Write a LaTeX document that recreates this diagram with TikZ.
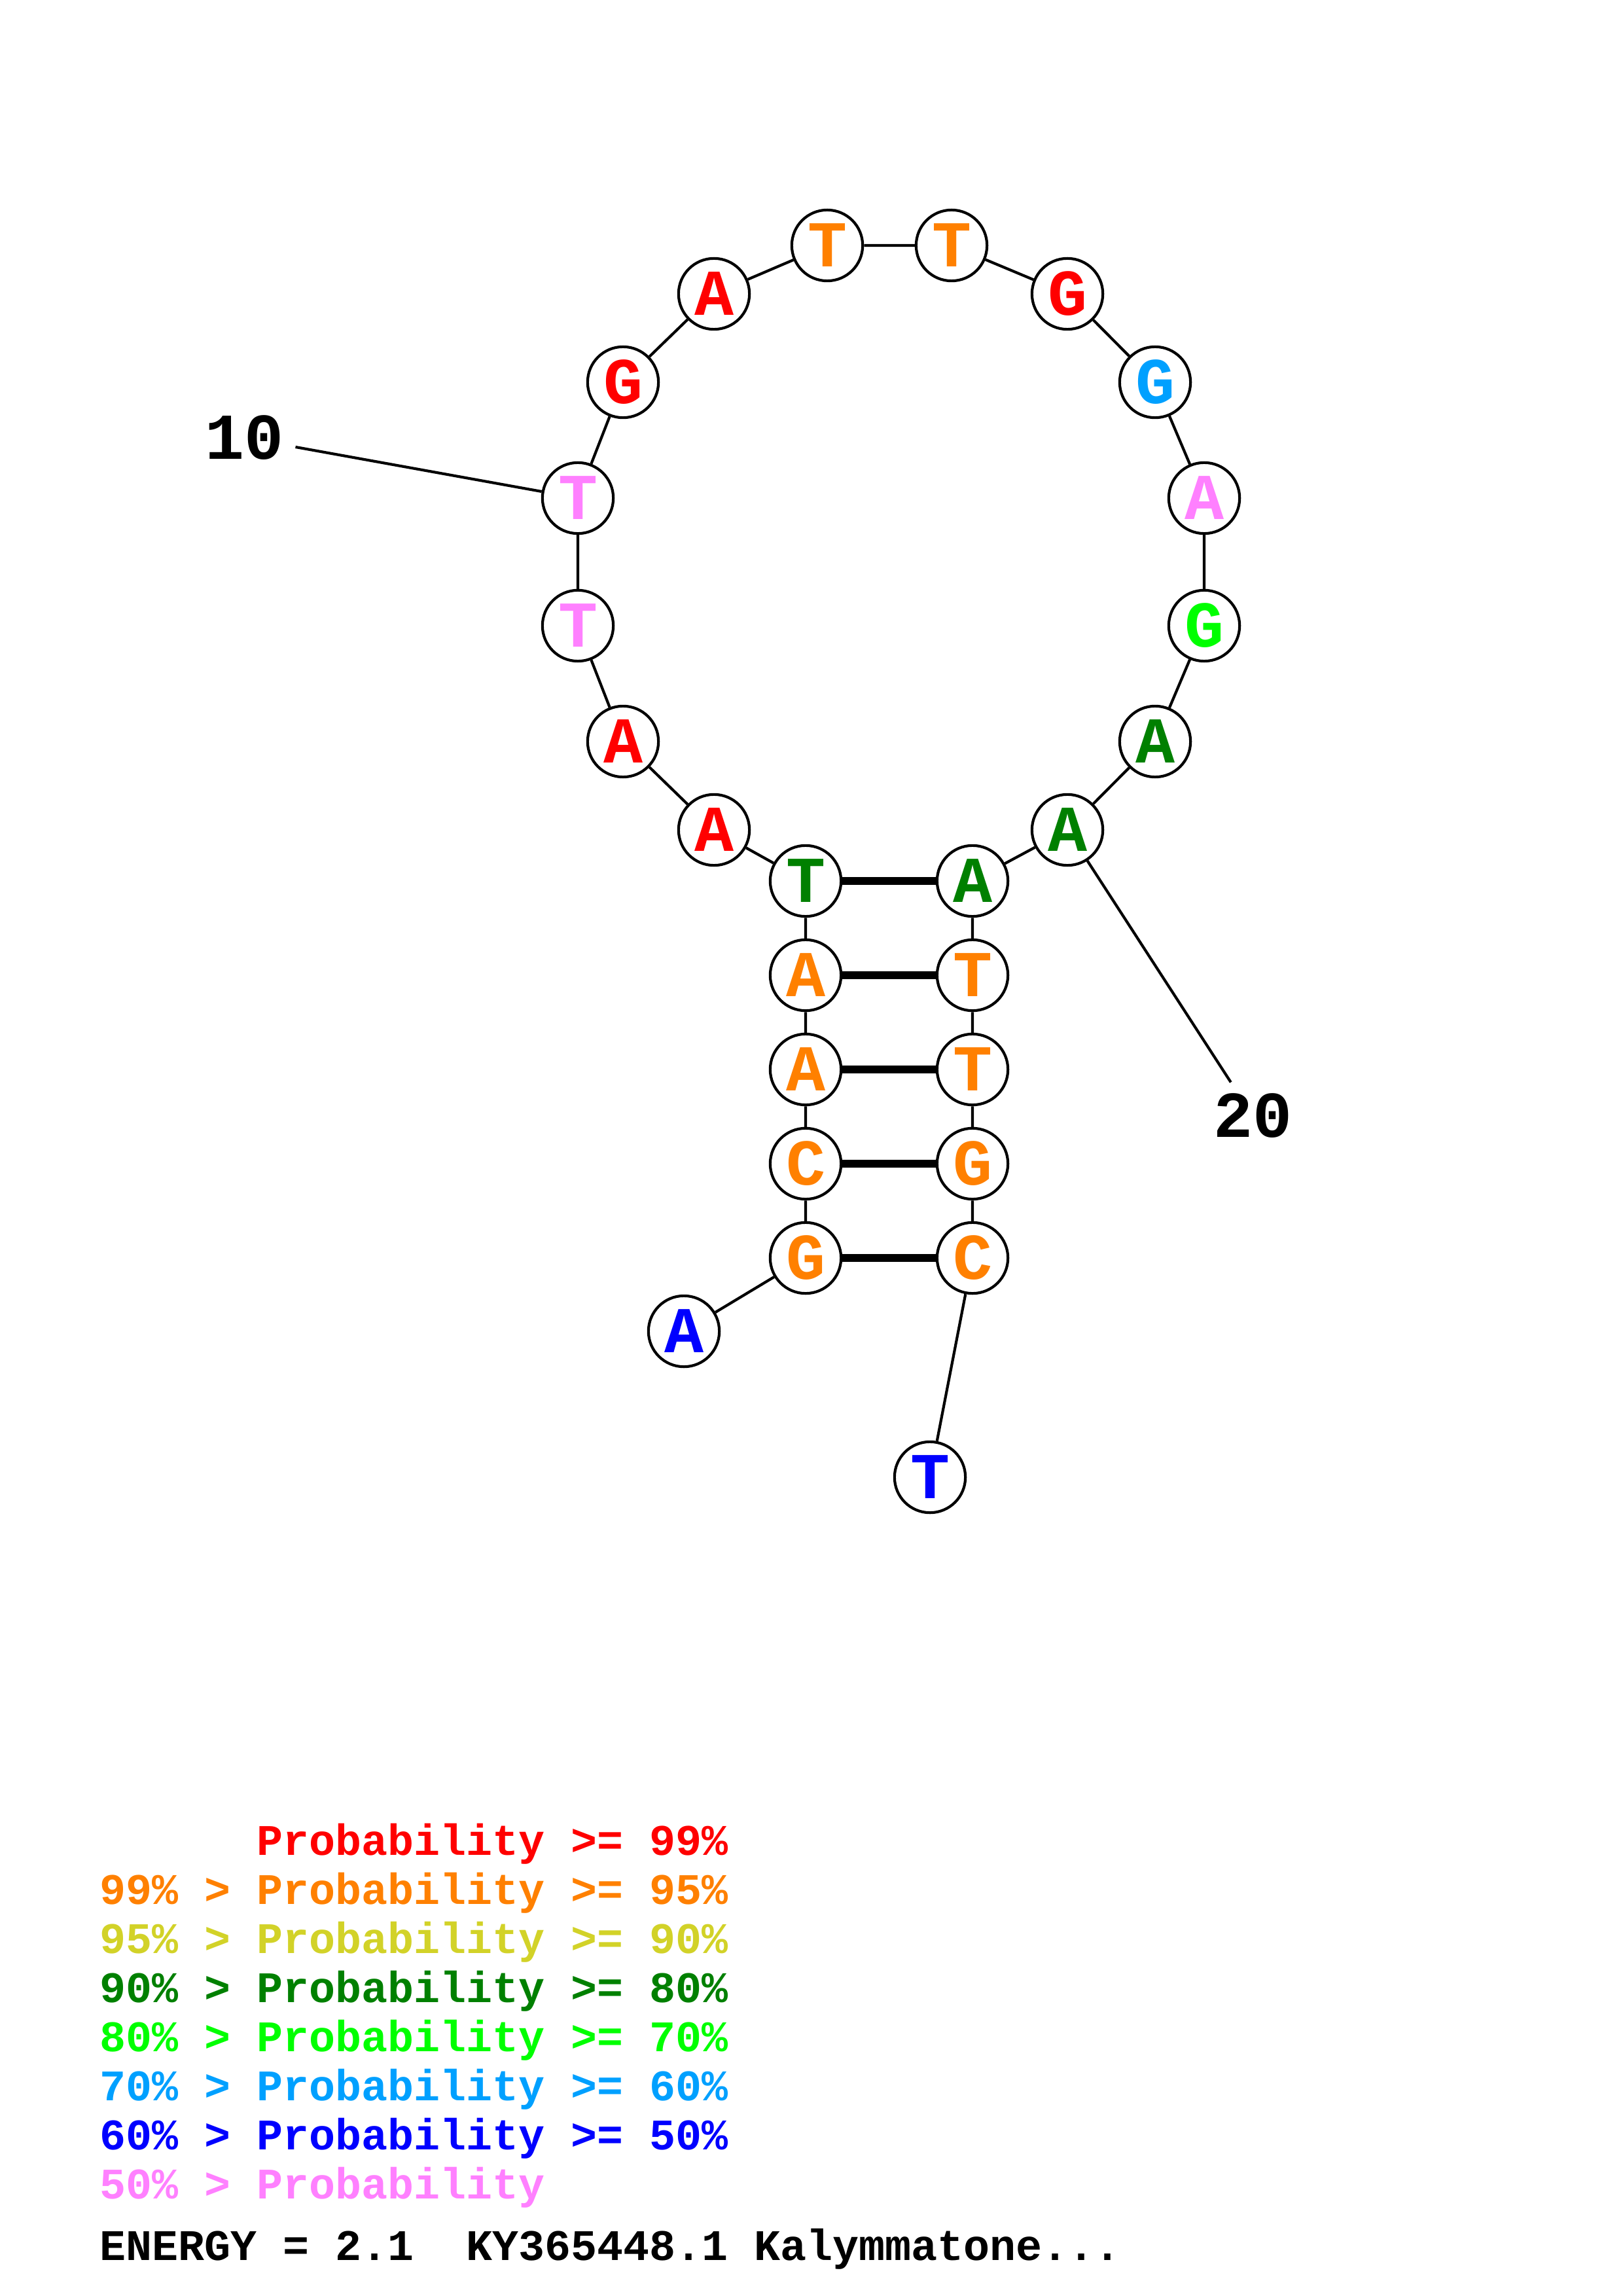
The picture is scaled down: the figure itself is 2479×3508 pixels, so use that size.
\documentclass[tikz,border=0pt]{standalone}
\usepackage{fontspec}
\setmainfont{Liberation Mono}
\definecolor{pred}{RGB}{255,0,0}
\definecolor{porange}{RGB}{255,128,0}
\definecolor{pyellow}{RGB}{210,210,40}
\definecolor{pdkgreen}{RGB}{0,128,0}
\definecolor{pgreen}{RGB}{0,255,0}
\definecolor{pcyan}{RGB}{0,160,255}
\definecolor{pblue}{RGB}{0,0,255}
\definecolor{ppink}{RGB}{255,128,255}
\begin{document}
\begin{tikzpicture}[x=0.24pt, y=-0.24pt,
       base/.style={circle, draw=black, line width=1pt, fill=white, minimum size=26pt, inner sep=0pt, font=\fontsize{24}{24}\selectfont\bfseries},
       backbone/.style={line width=1pt},
       pair/.style={line width=2.9pt},
       numlabel/.style={inner sep=4pt, font=\fontsize{24}{24}\selectfont\bfseries},
       legend/.style={anchor=base west, inner sep=0pt, font=\fontsize{16}{16}\selectfont\bfseries}]
       \useasboundingbox (0,0) rectangle (2479,3508);

       \node [base, text=pblue]    at (1045,2034) (n1)  {A};
       \node [base, text=porange]  at (1231,1922) (n2)  {G};
       \node [base, text=porange]  at (1231,1778) (n3)  {C};
       \node [base, text=porange]  at (1231,1634) (n4)  {A};
       \node [base, text=porange]  at (1231,1490) (n5)  {A};
       \node [base, text=pdkgreen] at (1231,1346) (n6)  {T};
       \node [base, text=pred]     at (1091,1268) (n7)  {A};
       \node [base, text=pred]     at (952,1133)  (n8)  {A};
       \node [base, text=ppink]    at (883,956)   (n9)  {T};
       \node [base, text=ppink]    at (883,761)   (n10) {T};
       \node [base, text=pred]     at (952,584)   (n11) {G};
       \node [base, text=pred]     at (1091,449)  (n12) {A};
       \node [base, text=porange]  at (1264,375)  (n13) {T};
       \node [base, text=porange]  at (1454,375)  (n14) {T};
       \node [base, text=pred]     at (1631,449)  (n15) {G};
       \node [base, text=pcyan]    at (1765,584)  (n16) {G};
       \node [base, text=ppink]    at (1840,761)  (n17) {A};
       \node [base, text=pgreen]   at (1840,956)  (n18) {G};
       \node [base, text=pdkgreen] at (1765,1133) (n19) {A};
       \node [base, text=pdkgreen] at (1631,1268) (n20) {A};
       \node [base, text=pdkgreen] at (1486,1346) (n21) {A};
       \node [base, text=porange]  at (1486,1490) (n22) {T};
       \node [base, text=porange]  at (1486,1634) (n23) {T};
       \node [base, text=porange]  at (1486,1778) (n24) {G};
       \node [base, text=porange]  at (1486,1922) (n25) {C};
       \node [base, text=pblue]    at (1421,2257) (n26) {T};

       \draw [backbone] (n1) -- (n2) -- (n3) -- (n4) -- (n5) -- (n6) -- (n7) -- (n8) -- (n9) -- (n10) -- (n11) -- (n12) -- (n13)
              -- (n14) -- (n15) -- (n16) -- (n17) -- (n18) -- (n19) -- (n20) -- (n21) -- (n22) -- (n23) -- (n24) -- (n25) -- (n26);
       \draw [pair] (n2) -- (n25);
       \draw [pair] (n3) -- (n24);
       \draw [pair] (n4) -- (n23);
       \draw [pair] (n5) -- (n22);
       \draw [pair] (n6) -- (n21);

       \node [numlabel] at (374,669)   (lab10) {10};
       \node [numlabel] at (1914,1705) (lab20) {20};
       \draw [backbone] (n10) -- (lab10);
       \draw [backbone] (n20) -- (lab20);

       \node [legend, text=pred]     at (152,2834) (leg1) {\hphantom{99\% > }Probability >= 99\%};
       \node [legend, text=porange]  at (152,2909) (leg2) {99\% > Probability >= 95\%};
       \node [legend, text=pyellow]  at (152,2984) (leg3) {95\% > Probability >= 90\%};
       \node [legend, text=pdkgreen] at (152,3059) (leg4) {90\% > Probability >= 80\%};
       \node [legend, text=pgreen]   at (152,3134) (leg5) {80\% > Probability >= 70\%};
       \node [legend, text=pcyan]    at (152,3209) (leg6) {70\% > Probability >= 60\%};
       \node [legend, text=pblue]    at (152,3284) (leg7) {60\% > Probability >= 50\%};
       \node [legend, text=ppink]    at (152,3359) (leg8) {50\% > Probability};
       \node [legend]                at (152,3453) (energy) {ENERGY = 2.1\ \ KY365448.1 Kalymmatone...};
\end{tikzpicture}
\end{document}
